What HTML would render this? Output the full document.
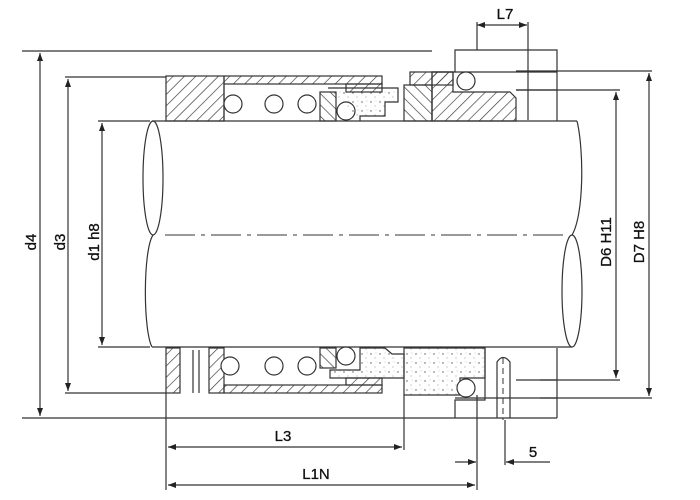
<!DOCTYPE html>
<html><head><style>html,body{margin:0;padding:0;background:#fff}svg{display:block}</style></head>
<body>
<svg width="700" height="500" viewBox="0 0 700 500" xmlns="http://www.w3.org/2000/svg" font-family="Liberation Sans, sans-serif">
<defs>
<pattern id="h1" width="8" height="8" patternUnits="userSpaceOnUse" patternTransform="rotate(45)"><line x1="0" y1="0" x2="0" y2="8" stroke="#333" stroke-width="1.3"/></pattern>
<pattern id="h2" width="8" height="8" patternUnits="userSpaceOnUse" patternTransform="rotate(-45)"><line x1="0" y1="0" x2="0" y2="8" stroke="#333" stroke-width="1.3"/></pattern>
<pattern id="dot" width="9" height="9" patternUnits="userSpaceOnUse"><circle cx="2" cy="3" r="0.7" fill="#555"/><circle cx="6" cy="7" r="0.5" fill="#777"/><circle cx="7" cy="2" r="0.4" fill="#888"/></pattern>
<marker id="a" markerWidth="8" markerHeight="6" refX="8" refY="3" orient="auto-start-reverse" markerUnits="userSpaceOnUse"><path d="M0,0L8,3L0,6z" fill="#222"/></marker>
</defs>
<g stroke="#333" stroke-width="1.2" fill="none">
<line x1="22" y1="51" x2="432" y2="51"/>
<line x1="22" y1="418" x2="557" y2="418"/>
<line x1="65" y1="77" x2="166" y2="77"/>
<line x1="65" y1="393" x2="166" y2="393"/>
<line x1="98" y1="121" x2="150" y2="121"/>
<line x1="98" y1="347" x2="150" y2="347"/>
<line x1="516" y1="71" x2="652" y2="71"/>
<line x1="516" y1="90" x2="620" y2="90"/>
<line x1="540" y1="380" x2="620" y2="380"/>
<line x1="540" y1="398" x2="652" y2="398"/>
<line x1="40" y1="53" x2="40" y2="416" marker-start="url(#a)" marker-end="url(#a)"/>
<line x1="68" y1="79" x2="68" y2="391" marker-start="url(#a)" marker-end="url(#a)"/>
<line x1="102" y1="123" x2="102" y2="345" marker-start="url(#a)" marker-end="url(#a)"/>
<line x1="616" y1="92" x2="616" y2="378" marker-start="url(#a)" marker-end="url(#a)"/>
<line x1="649" y1="73" x2="649" y2="396" marker-start="url(#a)" marker-end="url(#a)"/>
<line x1="477" y1="25" x2="527" y2="25" marker-start="url(#a)" marker-end="url(#a)"/>
<line x1="528" y1="22" x2="528" y2="120"/>
<line x1="477" y1="22" x2="477" y2="50"/>
<line x1="166" y1="393" x2="166" y2="490"/>
<line x1="404" y1="395" x2="404" y2="450"/>
<line x1="477" y1="395" x2="477" y2="490"/>
<line x1="168" y1="447" x2="402" y2="447" marker-start="url(#a)" marker-end="url(#a)"/>
<line x1="168" y1="485" x2="475" y2="485" marker-start="url(#a)" marker-end="url(#a)"/>
<line x1="455" y1="462" x2="476" y2="462" marker-end="url(#a)"/>
<line x1="550" y1="462" x2="506" y2="462" marker-end="url(#a)"/>
<line x1="505" y1="420" x2="505" y2="465"/>
<line x1="152" y1="121" x2="577" y2="121"/>
<line x1="152" y1="347" x2="572" y2="347"/>
<ellipse cx="153" cy="178" rx="10" ry="57"/>
<path d="M153,235 C143,250 143,330 152,347"/>
<path d="M577,121 C584,150 584,215 572,235"/>
<ellipse cx="572" cy="291" rx="10" ry="56"/>
<line x1="165" y1="235" x2="565" y2="235" stroke-dasharray="30,6,4,6" stroke-width="1"/>
<path d="M432,121 V72 H455 V50 H557 V121" />
<line x1="455" y1="72" x2="557" y2="72"/>
<line x1="516" y1="90" x2="557" y2="90"/>
<path d="M485,348 V400 H455 V418 M557,418 V348"/>
<line x1="516" y1="380" x2="557" y2="380"/>
<line x1="455" y1="398" x2="557" y2="398"/>
<path d="M497,418 V362 Q503,353 510,362 V418"/>
<line x1="503" y1="358" x2="503" y2="420" stroke-dasharray="6,4" stroke-width="1"/>
<rect x="166" y="76" width="58" height="45" fill="url(#h1)"/>
<rect x="224" y="76" width="158" height="8" fill="url(#h1)"/>
<path d="M224,84 V121"/>
<circle cx="233" cy="104" r="9" fill="#fff"/>
<circle cx="274" cy="104" r="9"/>
<circle cx="307" cy="104" r="9"/>
<rect x="320" y="92" width="16" height="29" fill="url(#h2)"/>
<circle cx="346" cy="111" r="9" fill="#fff"/>
<path d="M328,88 H398 V102 H385 V116 H360 V121" fill="url(#dot)"/>
<rect x="346" y="84" width="36" height="8" fill="url(#h1)"/>
<rect x="404" y="85" width="28" height="36" fill="url(#h2)"/>
<rect x="410" y="72" width="43" height="13" fill="url(#h1)"/>
<path d="M432,121 V72 H453 V92 H510 L516,98 V121 Z" fill="url(#h1)"/>
<circle cx="466" cy="81" r="9" fill="#fff"/>
<rect x="166" y="348" width="14" height="45" fill="url(#h1)"/>
<line x1="193" y1="350" x2="193" y2="393"/><line x1="199" y1="350" x2="199" y2="393"/>
<rect x="209" y="348" width="15" height="45" fill="url(#h1)"/>
<rect x="224" y="385" width="158" height="8" fill="url(#h1)"/>
<circle cx="230" cy="366" r="9" fill="#fff"/>
<circle cx="274" cy="366" r="9"/>
<circle cx="307" cy="366" r="9"/>
<rect x="320" y="348" width="16" height="20" fill="url(#h2)"/>
<circle cx="346" cy="356" r="9" fill="#fff"/>
<path d="M330,370 H360 V348 H385 L392,354 H404 V378 H330 Z" fill="url(#dot)"/>
<rect x="346" y="378" width="36" height="7" fill="url(#h1)"/>
<path d="M404,348 H485 V378 H460 V395 H404 Z" fill="url(#dot)"/>
<circle cx="466" cy="388" r="9" fill="#fff"/>
</g>
<g font-size="15" fill="#111" stroke="#111" stroke-width="0.3">
<text x="505" y="19" text-anchor="middle">L7</text>
<text x="283" y="441" text-anchor="middle">L3</text>
<text x="316" y="479" text-anchor="middle">L1N</text>
<text x="533" y="457" text-anchor="middle">5</text>
<text transform="translate(36,242) rotate(-90)" text-anchor="middle">d4</text>
<text transform="translate(65,242) rotate(-90)" text-anchor="middle">d3</text>
<text transform="translate(99,242) rotate(-90)" text-anchor="middle">d1 h8</text>
<text transform="translate(611,242) rotate(-90)" text-anchor="middle">D6 H11</text>
<text transform="translate(644,242) rotate(-90)" text-anchor="middle">D7 H8</text>
</g>
</svg>
</body></html>
